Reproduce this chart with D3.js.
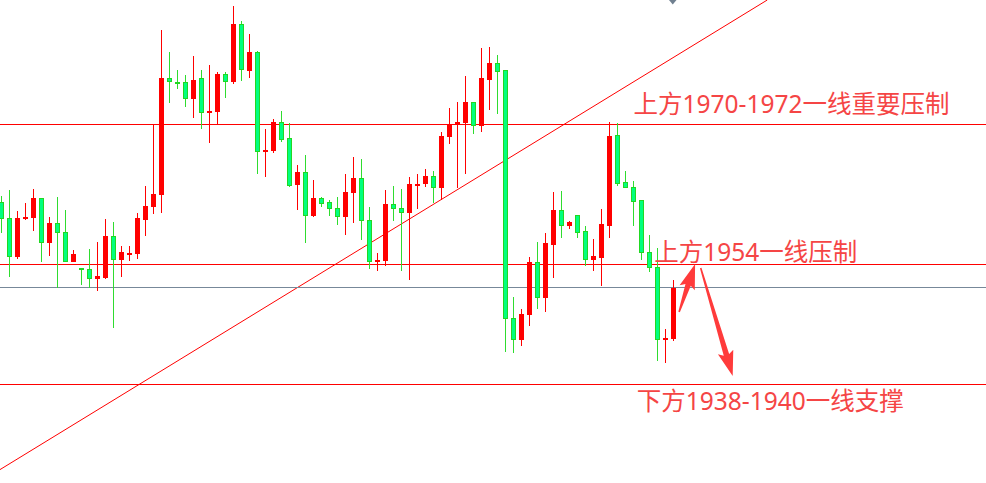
<!DOCTYPE html>
<html>
<head>
<meta charset="utf-8">
<script src="https://cdn.jsdelivr.net/npm/d3@7"></script>
<style>
  html, body { margin: 0; padding: 0; background: #ffffff; overflow: hidden; }
  svg { display: block; }
</style>
</head>
<body>
<svg id="chart" width="986" height="483"></svg>
<script>
// ---------------- DATA ----------------
const openP = [1961.66,1959.71,1954.88,1959.71,1959.79,1962.21,1956.66,1959.09,1957.96,1954.29,
1953.41,1953.34,1952.16,1952.29,1957.50,1954.54,1955.29,1955.29,1959.54,1961.16,
1962.66,1977.25,1976.71,1976.63,1974.66,1977.13,1972.91,1973.04,1977.63,1976.79,
1984.00,1978.16,1980.50,1968.04,1968.13,1971.63,1969.63,1963.88,1965.38,1960.04,
1962.13,1961.63,1960.96,1959.91,1962.91,1964.63,1959.50,1954.34,1954.41,1961.38,
1961.00,1960.41,1963.84,1964.04,1965.00,1963.54,1969.91,1971.50,1971.63,1974.13,
1971.34,1977.04,1979.04,1978.13,1947.13,1944.54,1947.66,1954.25,1949.79,1956.41,
1960.75,1958.79,1960.04,1958.04,1954.54,1954.79,1958.79,1970.09,1964.25,1963.59,
1961.88,1955.46,1953.59,1944.59,1944.66];

const highP = [1962.50,1963.25,1960.63,1961.63,1963.34,1962.21,1959.88,1962.38,1960.75,1955.75,
1953.41,1955.88,1956.75,1959.63,1959.29,1956.25,1956.25,1960.41,1963.79,1971.46,
1983.25,1980.54,1978.25,1977.63,1980.00,1978.25,1978.88,1978.04,1978.04,1986.25,
1984.38,1982.79,1980.63,1970.88,1972.13,1973.13,1971.59,1966.38,1967.63,1964.50,
1962.41,1962.00,1962.38,1965.29,1967.38,1967.13,1961.13,1955.38,1963.25,1963.75,
1963.38,1964.88,1965.29,1965.88,1965.63,1970.50,1973.50,1974.25,1977.50,1974.13,
1981.00,1981.13,1980.13,1978.13,1949.91,1948.38,1954.88,1956.75,1957.88,1963.00,
1963.13,1959.38,1960.13,1958.75,1957.13,1960.88,1971.75,1971.59,1965.63,1964.38,
1962.00,1957.63,1956.00,1945.84,1952.00];

const lowP = [1957.84,1952.41,1954.66,1959.54,1958.16,1954.25,1955.00,1951.04,1954.29,1954.29,
1951.38,1951.04,1950.66,1952.09,1946.04,1952.41,1954.41,1954.66,1957.54,1960.29,
1960.41,1974.16,1975.88,1973.66,1972.29,1970.91,1969.16,1971.50,1974.79,1976.46,
1976.91,1977.29,1965.29,1964.91,1967.91,1969.29,1963.66,1960.75,1956.66,1959.91,
1961.16,1960.04,1958.88,1957.63,1959.16,1957.00,1953.41,1953.16,1953.79,1959.38,
1953.16,1952.00,1960.88,1963.63,1961.59,1962.04,1969.00,1963.46,1965.25,1970.29,
1970.54,1973.25,1972.79,1943.04,1942.91,1943.79,1946.29,1948.38,1948.04,1952.29,
1957.29,1958.38,1957.29,1953.79,1953.16,1951.29,1957.29,1963.79,1963.44,1958.75,
1954.50,1952.96,1941.88,1941.66,1944.41];

const closeP = [1959.71,1954.91,1959.71,1959.84,1962.25,1956.66,1959.09,1957.96,1954.29,1955.25,
1953.34,1952.16,1952.38,1957.50,1954.59,1955.38,1955.34,1959.63,1961.25,1962.75,
1977.25,1976.84,1976.59,1974.66,1977.00,1972.91,1973.04,1977.63,1976.79,1984.00,
1978.29,1980.50,1968.04,1968.16,1971.63,1969.54,1963.79,1965.38,1960.04,1962.13,
1961.54,1960.91,1959.91,1963.00,1964.63,1959.41,1954.34,1954.50,1961.38,1960.91,
1960.41,1964.00,1964.00,1965.00,1963.54,1970.00,1971.46,1971.75,1974.13,1971.34,
1977.13,1979.04,1978.04,1947.16,1944.54,1947.75,1954.25,1949.79,1956.54,1960.75,
1958.79,1959.16,1957.91,1954.54,1954.88,1958.88,1970.00,1964.04,1963.54,1961.81,
1955.46,1953.59,1944.59,1944.71,1950.96];

// Horizontal price levels (red) and current bid line (grey)
const levelPrices = [1971.5, 1954, 1939];
const bidPrice = 1951.13;

// Trend line anchors: [candle index, price]
const trendIdx = [-0.19, 95.72];
const trendPrice = [1928.3, 1987];

// Annotation texts
const labelTexts = ["上方1970-1972一线重要压制", "上方1954一线压制", "下方1938-1940一线支撑"];
const labelIdx = [79.0, 81.6, 79.4];
const labelPrice = [1972.9, 1954.4, 1935.8];

// Arrows: tail / tip in [index, price]
const arrowTailIdx = [84.7, 87.4];
const arrowTailPrice = [1948.0, 1953.5];
const arrowTipIdx = [86.7, 91.4];
const arrowTipPrice = [1954.0, 1940.0];

// ---------------- CHART ----------------
const W = 986, H = 483;
const svg = d3.select("#chart");
svg.append("rect").attr("width", W).attr("height", H).attr("fill", "#ffffff");

const x = d3.scaleLinear().domain([0, 84]).range([1.5, 673.5]);
const y = d3.scaleLinear().domain([1926.625, 1987]).range([H, 0]);

const candles = openP.map((o, i) => ({ i, o, h: highP[i], l: lowP[i], c: closeP[i] }));

// trend line
svg.append("line")
  .attr("x1", x(trendIdx[0])).attr("y1", y(trendPrice[0]))
  .attr("x2", x(trendIdx[1])).attr("y2", y(trendPrice[1]))
  .attr("stroke", "#ff0000").attr("stroke-width", 1);

// horizontal levels
svg.selectAll("line.level").data(levelPrices).enter().append("line")
  .attr("class", "level")
  .attr("x1", 0).attr("x2", W)
  .attr("y1", d => Math.round(y(d)) + 0.5).attr("y2", d => Math.round(y(d)) + 0.5)
  .attr("stroke", "#ff0000").attr("stroke-width", 1)
  .attr("shape-rendering", "crispEdges");

svg.append("line")
  .attr("x1", 0).attr("x2", W)
  .attr("y1", Math.round(y(bidPrice)) + 0.5).attr("y2", Math.round(y(bidPrice)) + 0.5)
  .attr("stroke", "#778899").attr("stroke-width", 1)
  .attr("shape-rendering", "crispEdges");

const RED = "#ff0000", GREEN_W = "#2fdc2f", GREEN_F = "#00ff7f", GREEN_B = "#22d822";

const g = svg.append("g").attr("shape-rendering", "crispEdges");
// wicks
g.selectAll("line.wick").data(candles).enter().append("line")
  .attr("x1", d => x(d.i)).attr("x2", d => x(d.i))
  .attr("y1", d => y(d.h)).attr("y2", d => y(d.l))
  .attr("stroke", d => d.c >= d.o ? RED : GREEN_W)
  .attr("stroke-width", 1);
// bodies
g.selectAll("rect.body").data(candles).enter().append("rect")
  .attr("x", d => x(d.i) - 2)
  .attr("width", 4)
  .attr("y", d => Math.min(y(d.o), y(d.c)))
  .attr("height", d => Math.max(1, Math.abs(y(d.o) - y(d.c))))
  .attr("fill", d => d.c >= d.o ? RED : GREEN_F)
  .attr("stroke", d => d.c >= d.o ? RED : GREEN_B)
  .attr("stroke-width", 1);

// small grey marker at top
svg.append("path")
  .attr("d", d3.line()([[669, 0], [676.5, 0], [672.75, 4.5]]) + "Z")
  .attr("fill", "#708090");

// arrows
const ARROW = "#ff3b3b";
function arrowPath(tx, ty, px, py) {
  const dx = px - tx, dy = py - ty, len = Math.hypot(dx, dy);
  const ux = dx / len, uy = dy / len, nx = -uy, ny = ux;
  const hl = 22, hw = 8, w0 = 0.8, w1 = 2.8;
  const bx = px - ux * hl, by = py - uy * hl;
  const pts = [
    [tx + nx * w0, ty + ny * w0],
    [bx + nx * w1, by + ny * w1],
    [bx - ux * 3 + nx * hw, by - uy * 3 + ny * hw],
    [px, py],
    [bx - ux * 3 - nx * hw, by - uy * 3 - ny * hw],
    [bx - nx * w1, by - ny * w1],
    [tx - nx * w0, ty - ny * w0]
  ];
  return d3.line()(pts) + "Z";
}
svg.selectAll("path.arrow").data(arrowTailIdx).enter().append("path")
  .attr("d", (d, k) => arrowPath(x(d), y(arrowTailPrice[k]), x(arrowTipIdx[k]), y(arrowTipPrice[k])))
  .attr("fill", ARROW);

// labels
svg.selectAll("text.label").data(labelTexts).enter().append("text")
  .attr("x", (d, k) => x(labelIdx[k]))
  .attr("y", (d, k) => y(labelPrice[k]))
  .attr("font-family", "'Noto Sans', 'Noto Sans CJK SC', sans-serif")
  .attr("font-size", 24.5)
  .attr("fill", "#f54545")
  .text(d => d);
</script>
</body>
</html>
